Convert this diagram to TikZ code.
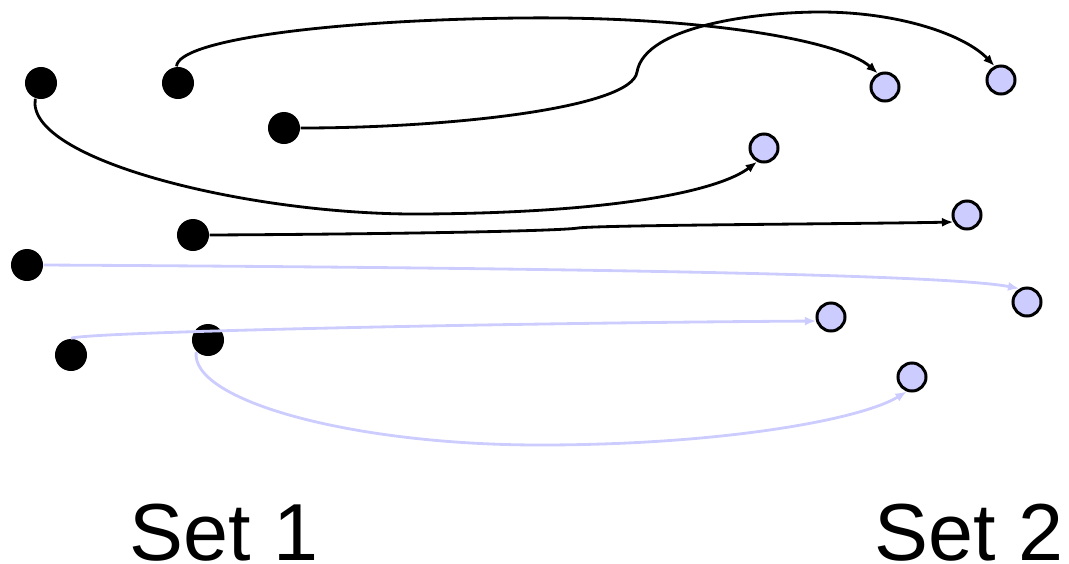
\documentclass[tikz,border=0pt]{standalone}
\usepackage{fontspec}
\setsansfont{Liberation Sans}
\usepackage{xcolor}
\usetikzlibrary{arrows.meta}

\begin{document}
\begin{tikzpicture}[x=0.01cm,y=-0.01cm,font=\sffamily,
    srcdot/.style={circle, fill=black, inner sep=0pt, minimum size=0.32cm},
    dstdot/.style={circle, draw=black, line width=0.85pt, fill=blue!20,
                   inner sep=0pt, minimum size=0.28cm},
    mapped/.style={line width=0.8pt, -{Latex[length=3.2pt,width=2.6pt]}},
    faint/.style={mapped, draw=blue!20},
    setlabel/.style={anchor=base, inner sep=0pt,
                     font=\sffamily\fontsize{23}{28}\selectfont}]
  \useasboundingbox (0,0) rectangle (1069,563);

  % points of the first set (left)
  \foreach \n/\x/\y in {1/41/83, 2/178/83, 3/284/128, 4/193/235,
                        5/27/265, 6/71/355, 7/208/340}{
    \node[srcdot] (s\n) at (\x,\y) {};
  }
  % points of the second set (right)
  \foreach \n/\x/\y in {1/885/87, 2/1001/80, 3/764/148, 4/967/215,
                        5/1027/302, 6/831/317, 7/912/377}{
    \node[dstdot] (t\n) at (\x,\y) {};
  }

  % black mappings
  \draw[mapped] (s2.95) .. controls (178,40) and (330,20) .. (520,18)
                .. controls (700,16) and (840,40) .. (t1.118);
  \draw[mapped] (s3.east) .. controls (450,128) and (632,108) .. (637,72)
                .. controls (645,25) and (760,12) .. (820,12)
                .. controls (900,12) and (965,35) .. (t2.115);
  \draw[mapped] (s1.250) .. controls (25,160) and (250,215) .. (420,214)
                .. controls (620,213) and (720,190) .. (t3.243);
  \draw[mapped] (s4.east) .. controls (400,234) and (560,231) .. (578,228)
                .. controls (600,225) and (850,224) .. (t4.207);

  % pale mappings
  \draw[faint] (s5.east) .. controls (600,268) and (950,275) .. (t5.120);
  \draw[faint] (s6.north) .. controls (85,332) and (500,323) .. (t6.195);
  \draw[faint] (s7.225) .. controls (190,400) and (350,445) .. (540,445)
               .. controls (720,445) and (860,420) .. (t7.250);

  % set labels
  \node[setlabel] (set1) at (224,560) {Set 1};
  \node[setlabel] (set2) at (969,560) {Set 2};
\end{tikzpicture}
\end{document}
